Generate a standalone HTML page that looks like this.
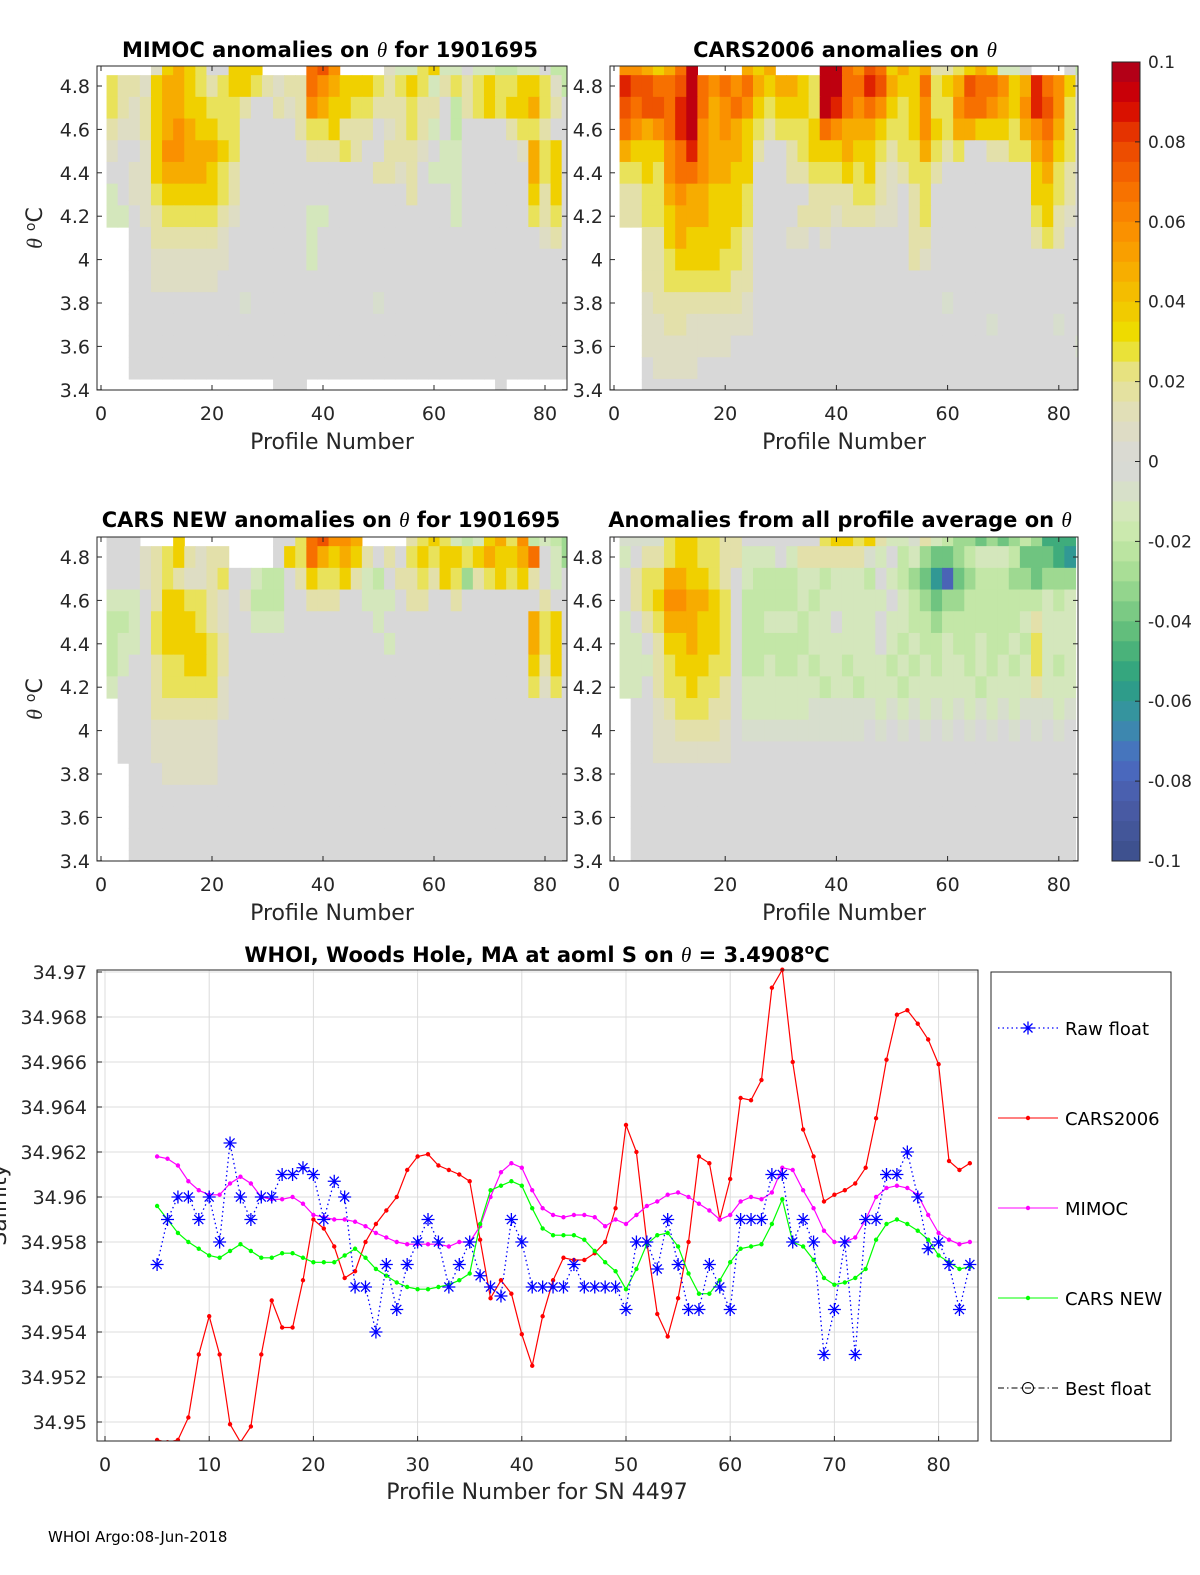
<!DOCTYPE html>
<html><head><meta charset="utf-8"><style>
html,body{margin:0;padding:0;background:#fff;}
svg{display:block;font-family:"DejaVu Sans","Liberation Sans",sans-serif;}
.t{font-size:19px;fill:#262626;}
.ttl{font-size:21px;font-weight:bold;fill:#000;}
.th{font-family:"Liberation Serif",serif;font-style:italic;font-weight:normal;}
</style></head><body>
<svg id="fig" width="1200" height="1575" viewBox="0 0 1200 1575" xmlns="http://www.w3.org/2000/svg">
<rect width="1200" height="1575" fill="#fff"/>
<g id="maps"></g>
<g id="cbar"></g>
<g id="line"></g>
<text class="ttl" x="330" y="57" text-anchor="middle">MIMOC anomalies on <tspan class="th">θ</tspan>  for 1901695</text>
<text class="ttl" x="845" y="57" text-anchor="middle">CARS2006 anomalies on <tspan class="th">θ</tspan></text>
<text class="ttl" x="331" y="527" text-anchor="middle">CARS NEW anomalies on <tspan class="th">θ</tspan> for 1901695</text>
<text class="ttl" x="840" y="527" text-anchor="middle">Anomalies from all profile average on <tspan class="th">θ</tspan></text>
<text class="ttl" x="537" y="962" text-anchor="middle">WHOI, Woods Hole, MA at aoml S on <tspan class="th">θ</tspan> = 3.4908<tspan dy="-8" font-size="14">o</tspan><tspan dy="8">C</tspan></text>
<text x="48" y="1542" font-size="15" fill="#000">WHOI Argo:08-Jun-2018</text>
</svg>
<script>
const codeValues={'g':0,'0':0.008,'1':0.016,'2':0.026,'3':0.036,'4':0.048,'5':0.058,'6':0.068,'7':0.076,'8':0.085,'9':0.095,'a':-0.006,'b':-0.012,'c':-0.02,'d':-0.03,'e':-0.04,'f':-0.05,'h':-0.06,'i':-0.08};
const G10="gggggggggg";
const mimocRows=[
"....03432gg333....675....0bb23bbgbbccbbgcc",
"2110344321"+"2332101165"+"433321232b"+"1212322332"+"0c",
"2101344332"+"221gg10154"+"3322111211"+"gc12323342"+"1g",
"1001345433"+"22ggggg122"+"3111g0121b"+"gcgggg1221"+"gg",
"0gg0355444"+"32gggggg11"+"121gg1110g"+"bbggggg042"+"3g",
"gg00344443"+"21gggggggg"+"gggg1101gb"+"bbgggggg42"+"3g",
"bg00233333"+"21gggggggg"+"ggggggg1gg"+"gbgggggg31"+"3g",
"bbg0122222"+"10ggggggbb"+G10+"gbgggggg21"+"2g",
"..gg111111"+"0gggggggbg"+G10+"ggggggggg0"+"1g",
"..gg000000"+"0gggggggbg"+G10+G10+"gg",
"..gg000000"+G10+G10+G10+"gg",
"..gggggggg"+"ggaggggggg"+"ggggaggggg"+G10+"gg",
"..gggggggg"+G10+G10+G10+"gg",
"..gggggggg"+G10+G10+G10+"gg",
"..gggggggg"+G10+G10+G10+"gg",
".........."+".....ggg.."+".........."+".....g...."+".."];
const cars2006Rows=[
"5543469..."+".434....99"+"6576343411"+"2343bbg..."+"gc",
"8776679656"+"5643443299"+"6687433623"+"4766534865"+"3g",
"7677689645"+"6532333298"+"6565323522"+"5665435875"+"2g",
"6545689545"+"4321222365"+"4443223532"+"4433324564"+"2g",
"4333568544"+"431gg12333"+"4332122421"+"2gg1122453"+"2g",
"2232566544"+"33ggg11222"+"323101221g"+"ggggggg342"+"1g",
"1122454433"+"32ggggg111"+"12210g12gg"+"ggggggg332"+"1g",
"1122344433"+"32gggg1110"+"11100g12gg"+"ggggggg231"+"0g",
"..11343333"+"21ggg00g0g"+"gggggg11gg"+"ggggggg121"+"gg",
"..11233332"+"21gggggggg"+"gggggg10gg"+G10+"gg",
"..11222222"+"11gggggggg"+G10+G10+"gg",
"..01111111"+"10gggggggg"+"ggggggggga"+G10+"gg",
"..00110000"+"00gggggggg"+G10+"gggaggggga"+"gg",
"..00000000"+G10+G10+G10+"ga",
"..g0000ggg"+G10+G10+G10+"gg",
"..gggggggg"+G10+G10+G10+"gg"];
const carsNewRows=[
"ggg...3..."+".....gg267"+"554....123"+"2bcb3425cb"+"cd",
"ggg0123101"+"1....g3264"+"3431g1g232"+"332343346g"+"bd",
"ggg0121001"+"2ggbccg132"+"231bcg1121"+"32d123231g"+"bg",
"bbbg133221"+"0g0cccgg11"+"1ggbbbg11g"+"g1ggggggg1"+"gg",
"ccbg233321"+"0ggbbbgggg"+"ggggbggggg"+"gggggggg42"+"3g",
"cbbg233332"+"1ggggggggg"+"gggggbgggg"+"gggggggg42"+"3g",
"cbgg122332"+"1ggggggggg"+G10+"gggggggg31"+"3g",
"bggg122222"+"0ggggggggg"+G10+"gggggggg20"+"2g",
".ggg111111"+"0ggggggggg"+G10+G10+"gg",
".ggg000000"+G10+G10+G10+"gg",
".ggg000000"+G10+G10+G10+"gg",
"..ggg00000"+G10+G10+G10+"gg",
"..gggggggg"+G10+G10+G10+"gg",
"..gggggggg"+G10+G10+G10+"gg",
"..gggggggg"+G10+G10+G10+"gg",
"..gggggggg"+G10+G10+G10+"gg"];
const avgRows=[
"aaaa233221"+"1ggggggg23"+"3231bba1bc"+"ddededcdff"+"f.",
"bg11233221"+"1bbbgb1111"+"11abgcbdee"+"dcbbbceeef"+"h.",
"g122443321"+"gbccccbbcb"+"bbcgbcdehi"+"edcccddedd"+"d.",
"g123554432"+"gcccccbcbb"+"bbbbgbcded"+"dcccccccbc"+"b.",
"bg12444332"+"gccbbbcbbg"+"bbbgbbccdc"+"ccccccb1bb"+"b.",
"bbg1334332"+"gccccccbbb"+"bbbgbcbccb"+"ccbccbc2bb"+"b.",
"bbb1233322"+"gccbccbcbb"+"cbbbcbcbcb"+"bcbcbcb2bc"+"b.",
"bbg1223221"+"gbbbbbbbcb"+"bcbbbcbbbb"+"bbcbbbb1bb"+"b.",
".gg0122211"+"gbbbbbbaaa"+"aaabababab"+"abababaaab"+"a.",
".gg0011110"+"gaaaaaaaaa"+"aagagagaga"+"gagagagaga"+"g.",
".gg0000000"+G10+G10+G10+"g.",
".ggggggggg"+G10+G10+G10+"g.",
".ggggggggg"+G10+G10+G10+"g.",
".ggggggggg"+G10+G10+G10+"g.",
".ggggggggg"+G10+G10+G10+"g.",
".ggggggggg"+G10+G10+G10+"g."];
const yTicks=[4.8,4.6,4.4,4.2,4.0,3.8,3.6,3.4];
const yTickLabels=["4.8","4.6","4.4","4.2","4","3.8","3.6","3.4"];
const xTicks=[0,20,40,60,80];
const cbTicks=[0.1,0.08,0.06,0.04,0.02,0,-0.02,-0.04,-0.06,-0.08,-0.1];
const cbLabels=["0.1","0.08","0.06","0.04","0.02","0","-0.02","-0.04","-0.06","-0.08","-0.1"];

const profiles=[];for(let p=5;p<=83;p++)profiles.push(p);
const rawFloat=[34.957,34.959,34.960,34.960,34.959,34.960,34.958,34.9624,34.960,34.959,
34.960,34.960,34.961,34.961,34.9613,34.961,34.959,34.9607,34.960,34.956,
34.956,34.954,34.957,34.955,34.957,34.958,34.959,34.958,34.956,34.957,
34.958,34.9565,34.956,34.9556,34.959,34.958,34.956,34.956,34.956,34.956,
34.957,34.956,34.956,34.956,34.956,34.955,34.958,34.958,34.9568,34.959,
34.957,34.955,34.955,34.957,34.956,34.955,34.959,34.959,34.959,34.961,
34.961,34.958,34.959,34.958,34.953,34.955,34.958,34.953,34.959,34.959,
34.961,34.961,34.962,34.960,34.9577,34.958,34.957,34.955,34.957];
const cars2006=[34.9492,34.9491,34.9492,34.9502,34.953,34.9547,34.953,34.9499,34.9491,34.9498,
34.953,34.9554,34.9542,34.9542,34.9563,34.959,34.9586,34.9578,34.9564,34.9567,
34.958,34.9588,34.9594,34.960,34.9612,34.9618,34.9619,34.9614,34.9612,34.961,
34.9607,34.9581,34.9555,34.9563,34.9557,34.9539,34.9525,34.9547,34.9563,34.9573,
34.9572,34.9572,34.9575,34.958,34.9595,34.9632,34.962,34.958,34.9548,34.9538,
34.9555,34.958,34.9618,34.9615,34.959,34.9608,34.9644,34.9643,34.9652,34.9693,
34.9701,34.966,34.963,34.9618,34.9598,34.9601,34.9603,34.9606,34.9613,34.9635,
34.9661,34.9681,34.9683,34.9677,34.967,34.9659,34.9616,34.9612,34.9615];
const mimoc=[34.9618,34.9617,34.9614,34.9607,34.9603,34.9601,34.9601,34.9606,34.9609,34.9606,
34.960,34.9599,34.9599,34.960,34.9597,34.9592,34.9591,34.959,34.959,34.9589,
34.9587,34.9584,34.9582,34.958,34.9579,34.9579,34.9579,34.9579,34.9578,34.958,
34.958,34.9587,34.960,34.9611,34.9615,34.9613,34.9603,34.9595,34.9592,34.9591,
34.9592,34.9592,34.9591,34.9587,34.959,34.9588,34.9592,34.9596,34.9598,34.9601,
34.9602,34.960,34.9597,34.9594,34.959,34.9592,34.9598,34.960,34.9599,34.9602,
34.9613,34.9612,34.9603,34.9595,34.9585,34.958,34.958,34.9582,34.959,34.960,
34.9604,34.9605,34.9604,34.9601,34.9592,34.9584,34.9581,34.9579,34.958];
const carsNew=[34.9596,34.959,34.9584,34.958,34.9577,34.9574,34.9573,34.9576,34.9579,34.9576,
34.9573,34.9573,34.9575,34.9575,34.9573,34.9571,34.9571,34.9571,34.9574,34.9577,
34.9573,34.9568,34.9565,34.9562,34.956,34.9559,34.9559,34.956,34.9561,34.9563,
34.9566,34.9588,34.9603,34.9605,34.9607,34.9605,34.9595,34.9586,34.9583,34.9583,
34.9583,34.9581,34.9576,34.9571,34.9567,34.9559,34.9568,34.9579,34.9583,34.9584,
34.9578,34.9566,34.9557,34.9557,34.9563,34.9571,34.9577,34.9578,34.9579,34.9588,
34.9599,34.958,34.9578,34.9572,34.9564,34.9561,34.9562,34.9564,34.9568,34.9581,
34.9588,34.959,34.9588,34.9585,34.9581,34.9574,34.9571,34.9568,34.9569];
const salTicks=[34.95,34.952,34.954,34.956,34.958,34.96,34.962,34.964,34.966,34.968,34.97];
const salTickLabels=["34.95","34.952","34.954","34.956","34.958","34.96","34.962","34.964","34.966","34.968","34.97"];
const profTicks=[0,10,20,30,40,50,60,70,80];

const NS="http://www.w3.org/2000/svg";
function mk(tag,attrs,parent){const e=document.createElementNS(NS,tag);for(const k in attrs)e.setAttribute(k,attrs[k]);parent.appendChild(e);return e;}
const stops=[[-0.1,[60,79,138]],[-0.085,[74,92,168]],[-0.075,[74,108,196]],[-0.065,[56,144,168]],[-0.055,[42,160,128]],[-0.045,[85,184,120]],[-0.035,[136,208,136]],[-0.025,[180,226,154]],[-0.015,[210,235,180]],[-0.005,[216,220,208]],[0,[216,216,216]],[0.005,[220,219,204]],[0.015,[226,224,176]],[0.025,[232,226,112]],[0.03,[236,226,0]],[0.04,[242,196,0]],[0.05,[248,166,0]],[0.06,[250,138,0]],[0.07,[246,106,0]],[0.08,[234,68,0]],[0.09,[212,0,0]],[0.1,[168,0,30]]];
function cmap(v){v=Math.max(-0.1,Math.min(0.1,v));for(let i=1;i<stops.length;i++){if(v<=stops[i][0]){const a=stops[i-1],b=stops[i];const t=(v-a[0])/(b[0]-a[0]);const c=a[1].map((x,j)=>Math.round(x+(b[1][j]-x)*t));return `rgb(${c[0]},${c[1]},${c[2]})`;}}return 'rgb(168,0,30)';}

const maps=document.getElementById('maps');
const panels=[
{rows:mimocRows,box:[97,66,567,390],x0:101,sx:5.55,y48:86,name:'mimoc',lbl:'left'},
{rows:cars2006Rows,box:[610,66,1078,390],x0:614,sx:5.56,y48:86,name:'cars2006',lbl:'right'},
{rows:carsNewRows,box:[97,537,567,861],x0:101,sx:5.55,y48:557,name:'carsnew',lbl:'left'},
{rows:avgRows,box:[610,537,1078,861],x0:614,sx:5.56,y48:557,name:'average',lbl:'right'}];
panels.forEach((P,pi)=>{
  const g=mk('g',{},maps);
  
  
  const [bx0,by0,bx1,by1]=P.box;
  const cp=mk('clipPath',{id:'cp'+pi},g);mk('rect',{x:bx0,y:by0,width:bx1-bx0,height:by1-by0},cp);
  const xs=p=>P.x0+p*P.sx, ys=t=>P.y48+(4.8-t)*217;
  const cells=mk('g',{'clip-path':'url(#cp'+pi+')'},g);
  P.rows.forEach((row,i)=>{
    const tTop=4.95-0.1*i,tBot=4.85-0.1*i;
    for(let k=0;k<row.length;k++){
      const ch=row[k];if(ch==='.'||!(ch in codeValues))continue;
      const pL=1+2*k,pR=3+2*k;
      const r=mk('rect',{x:xs(pL).toFixed(2),y:ys(tTop).toFixed(2),width:(xs(pR)-xs(pL)+0.6).toFixed(2),height:(ys(tBot)-ys(tTop)+0.6).toFixed(2),fill:cmap(codeValues[ch])},cells);
      
      
    }
  });
  const box=mk('rect',{x:bx0,y:by0,width:bx1-bx0,height:by1-by0,fill:'none',stroke:'#262626','stroke-width':1},g);
  
  
  xTicks.forEach(p=>{
    const x=xs(p);
    mk('line',{x1:x,x2:x,y1:by1,y2:by1-5,stroke:'#262626'},g);
    mk('line',{x1:x,x2:x,y1:by0,y2:by0+5,stroke:'#262626'},g);
    const t=mk('text',{x:x,y:by1+30,'text-anchor':'middle',class:'t'},g);t.textContent=p;
    
    
  });
  yTicks.forEach((v,i)=>{
    const y=ys(v);
    mk('line',{x1:bx0,x2:bx0+5,y1:y,y2:y,stroke:'#262626'},g);
    mk('line',{x1:bx1,x2:bx1-5,y1:y,y2:y,stroke:'#262626'},g);
    const t=mk('text',{x:bx0-7,y:y+7,'text-anchor':'end',class:'t'},g);t.textContent=yTickLabels[i];
    
    
  });
  const xl=mk('text',{x:(bx0+bx1)/2,y:by1+59,'text-anchor':'middle',class:'t'},g);xl.textContent='Profile Number';
  xl.style.fontSize='22px';
  
  
  if(P.lbl==='left'){
    const yl=mk('text',{transform:`translate(42,${(by0+by1)/2}) rotate(-90)`,'text-anchor':'middle',class:'t'},g);
    yl.innerHTML='<tspan font-family="Liberation Serif" font-style="italic">θ</tspan> <tspan dy="-7" font-size="14">o</tspan><tspan dy="7">C</tspan>';
    yl.style.fontSize='22px';
    
    
  }
});

const cb=document.getElementById('cbar');
const cbx=1112,cbw=28,cby0=62,cby1=861;
const nb=40;
for(let i=0;i<nb;i++){
  const v=0.1-(i+0.5)*0.2/nb;
  const y=cby0+i*(cby1-cby0)/nb;
  const r=mk('rect',{x:cbx,y:y.toFixed(2),width:cbw,height:((cby1-cby0)/nb+0.5).toFixed(2),fill:cmap(v)},cb);
  
  
}
mk('rect',{x:cbx,y:cby0,width:cbw,height:cby1-cby0,fill:'none',stroke:'#262626'},cb);
cbTicks.forEach((v,i)=>{
  const y=cby0+(0.1-v)/0.2*(cby1-cby0);
  mk('line',{x1:cbx+cbw-5,x2:cbx+cbw,y1:y,y2:y,stroke:'#262626'},cb);
  const t=mk('text',{x:1148,y:y+6,class:'t'},cb);t.textContent=cbLabels[i];
  t.style.fontSize='17px';
  
  
});

const L=document.getElementById('line');
const X0=97,X1=978,Y0=970,Y1=1441;
const px=p=>105+p*10.42, py=s=>972+(34.97-s)/0.002*45;
mk('rect',{x:X0,y:Y0,width:X1-X0,height:Y1-Y0,fill:'#fff'},L);
profTicks.forEach(p=>{
  const x=px(p);
  mk('line',{x1:x,x2:x,y1:Y0,y2:Y1,stroke:'#dcdcdc'},L);
  mk('line',{x1:x,x2:x,y1:Y1,y2:Y1-5,stroke:'#262626'},L);
  const t=mk('text',{x:x,y:Y1+30,'text-anchor':'middle',class:'t'},L);t.textContent=p;
  
  
});
salTicks.forEach((s,i)=>{
  const y=py(s);
  mk('line',{x1:X0,x2:X1,y1:y,y2:y,stroke:'#dcdcdc'},L);
  mk('line',{x1:X0,x2:X0+5,y1:y,y2:y,stroke:'#262626'},L);
  const t=mk('text',{x:X0-10,y:y+7,'text-anchor':'end',class:'t'},L);t.textContent=salTickLabels[i];
  
  
});
const cl=mk('clipPath',{id:'cpl'},L);mk('rect',{x:X0,y:Y0-4,width:X1-X0,height:Y1-Y0+4},cl);
const plotG=mk('g',{'clip-path':'url(#cpl)'},L);
function series(vals,color,name,dotted){
  const g=mk('g',{},plotG);
  
  
  const d=vals.map((v,i)=>(i?'L':'M')+px(profiles[i]).toFixed(1)+','+py(v).toFixed(1)).join('');
  mk('path',{d:d,fill:'none',stroke:color,'stroke-width':dotted?1.3:1.2,'stroke-dasharray':dotted?'1.5,3':'none'},g);
  vals.forEach((v,i)=>{
    const x=px(profiles[i]),y=py(v);
    if(dotted){
      const s=6.5;
      mk('path',{d:`M${x-s},${y}H${x+s}M${x},${y-s}V${y+s}M${x-s*0.7},${y-s*0.7}L${x+s*0.7},${y+s*0.7}M${x-s*0.7},${y+s*0.7}L${x+s*0.7},${y-s*0.7}`,stroke:color,'stroke-width':1.3},g);
    } else {
      mk('circle',{cx:x,cy:y,r:2.2,fill:color},g);
    }
  });
}
series(cars2006,'#ff0000','cars2006',false);
series(mimoc,'#ff00ff','mimoc',false);
series(carsNew,'#00ff00','carsnew',false);
series(rawFloat,'#0000ff','raw-float',true);
mk('rect',{x:X0,y:Y0,width:X1-X0,height:Y1-Y0,fill:'none',stroke:'#262626'},L);
const xt=mk('text',{x:537,y:1499,'text-anchor':'middle',class:'t'},L);xt.textContent='Profile Number for SN 4497';xt.style.fontSize='22px';


const yt=mk('text',{transform:'translate(6,1205) rotate(-90)','text-anchor':'middle',class:'t'},L);yt.textContent='Salinity';yt.style.fontSize='22px';


const lg=mk('g',{},L);


mk('rect',{x:991,y:972,width:180,height:469,fill:'#fff',stroke:'#262626'},lg);
const legNames=['Raw float','CARS2006','MIMOC','CARS NEW','Best float'];
const legColors=['#0000ff','#ff0000','#ff00ff','#00ff00','#000000'];
legNames.forEach((n,i)=>{
  const y=1028+i*90;
  const e=mk('g',{},lg);
  
  
  const c=legColors[i];
  if(i===0){mk('line',{x1:998,x2:1058,y1:y,y2:y,stroke:c,'stroke-dasharray':'1.5,3','stroke-width':1.3},e);
    const x=1028,s=6.5;mk('path',{d:`M${x-s},${y}H${x+s}M${x},${y-s}V${y+s}M${x-4.5},${y-4.5}L${x+4.5},${y+4.5}M${x-4.5},${y+4.5}L${x+4.5},${y-4.5}`,stroke:c,'stroke-width':1.3},e);}
  else if(i===4){mk('line',{x1:998,x2:1058,y1:y,y2:y,stroke:c,'stroke-dasharray':'6,3,1.5,3'},e);mk('circle',{cx:1028,cy:y,r:5.5,fill:'none',stroke:c},e);}
  else {mk('line',{x1:998,x2:1058,y1:y,y2:y,stroke:c},e);mk('circle',{cx:1028,cy:y,r:2.2,fill:c},e);}
  const t=mk('text',{x:1065,y:y+7,class:'t'},e);t.textContent=n;t.style.fontSize='18px';t.style.fill='#000';
});
</script>
</body></html>
